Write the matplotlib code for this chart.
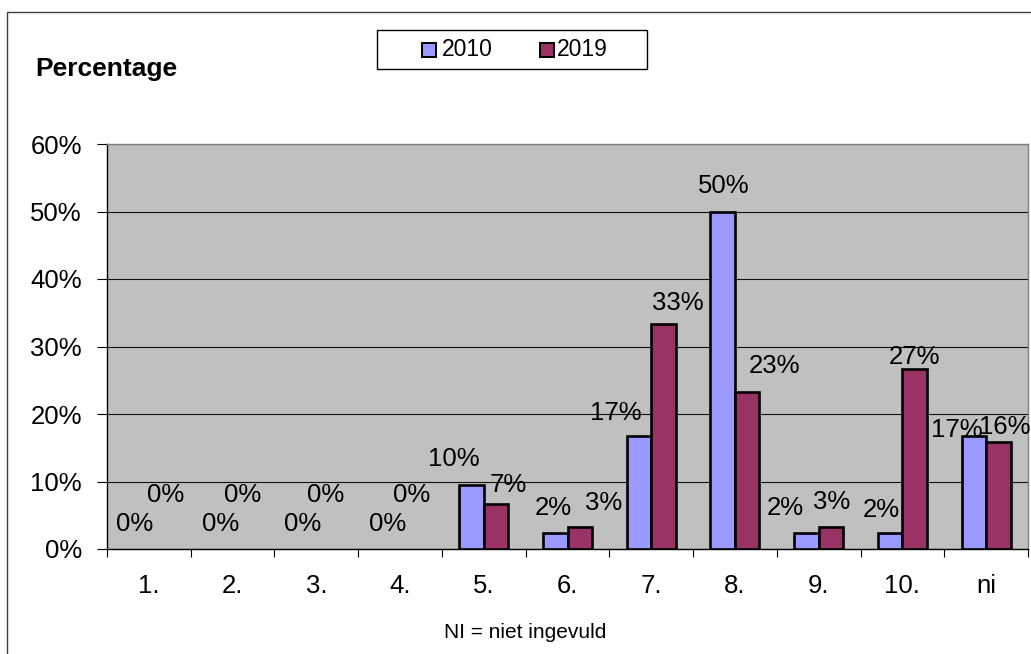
import matplotlib
matplotlib.use("Agg")
import matplotlib.pyplot as plt
from matplotlib.patches import Rectangle
from matplotlib.ticker import PercentFormatter, FixedLocator, NullFormatter
import numpy as np

plt.rcParams['font.family'] = ['Liberation Sans', 'DejaVu Sans']

categories = ["1.", "2.", "3.", "4.", "5.", "6.", "7.", "8.", "9.", "10.", "ni"]
series_names = ["2010", "2019"]
values_2010 = [0.0, 0.0, 0.0, 0.0, 0.095, 0.024, 0.167, 0.50, 0.024, 0.024, 0.167]
values_2019 = [0.0, 0.0, 0.0, 0.0, 0.067, 0.033, 0.333, 0.233, 0.033, 0.267, 0.158]
labels_2010 = ["0%", "0%", "0%", "0%", "10%", "2%", "17%", "50%", "2%", "2%", "17%"]
labels_2019 = ["0%", "0%", "0%", "0%", "7%", "3%", "33%", "23%", "3%", "27%", "16%"]

# label offsets (pixels) relative to bar top-centre, as placed in the original
off_2010 = [(-2, 25), (0, 25), (-1, 25), (0, 25), (-18, 26), (-2, 25), (-23, 23.5),
            (1, 25.5), (-21, 25), (-9, 23), (-17, 6.5)]
off_2019 = [(4, 54), (-2, 54), (-3, 54), (-1, 54), (12, 19), (24, 23.5), (14, 21),
            (27, 25.5), (1, 24.5), (0, 12), (6, 15)]

c2010 = "#9999FF"
c2019 = "#993366"

W, H = 1031, 654
fig = plt.figure(figsize=(W / 100, H / 100), dpi=100)
fig.patch.set_facecolor("white")

# chart border
fig.patches.append(Rectangle((7 / W, -0.1), 1.2, 1 - 12 / H + 0.1, transform=fig.transFigure,
                             fill=False, edgecolor="#404040", linewidth=1.0, zorder=0))

left, right, bottom, top = 107, 1028, 549, 144
ax = fig.add_axes([left / W, 1 - bottom / H, (right - left) / W, (bottom - top) / H])
ax.set_facecolor("#C0C0C0")

x = np.arange(len(categories))
bw = 0.293
lw1 = [1.9 if v > 0 else 0 for v in values_2010]
lw2 = [1.9 if v > 0 else 0 for v in values_2019]
b1 = ax.bar(x - bw / 2, values_2010, bw, color=c2010, edgecolor="black", linewidth=lw1, zorder=3)
b2 = ax.bar(x + bw / 2, values_2019, bw, color=c2019, edgecolor="black", linewidth=lw2, zorder=3)

ax.set_xlim(-0.5, len(categories) - 0.5)
ax.set_ylim(0, 0.6)
ax.set_yticks(np.arange(0, 0.61, 0.1))
ax.yaxis.set_major_formatter(PercentFormatter(1.0, decimals=0))
ax.yaxis.grid(True, color="#111111", linewidth=0.8, zorder=1)
ax.set_axisbelow(True)

ax.xaxis.set_major_locator(FixedLocator(np.arange(-0.5, len(categories), 1.0)))
ax.xaxis.set_major_formatter(NullFormatter())
ax.xaxis.set_minor_locator(FixedLocator(x))
ax.set_xticklabels(categories, minor=True)
ax.tick_params(axis="x", which="major", length=6, width=0.8, color="black", direction="out")
ax.tick_params(axis="x", which="minor", length=0, pad=18, labelsize=18.5)
ax.tick_params(axis="y", length=7, width=0.8, pad=11, labelsize=18.5)

for s in ["top", "right"]:
    ax.spines[s].set_color("#808080")
    ax.spines[s].set_linewidth(1.0)
for s in ["left", "bottom"]:
    ax.spines[s].set_color("black")
    ax.spines[s].set_linewidth(1.0)

px = 0.72  # points per pixel at 100 dpi
for bars, labs, offs in [(b1, labels_2010, off_2010), (b2, labels_2019, off_2019)]:
    for rect, lab, (dx, dy) in zip(bars, labs, offs):
        cx = rect.get_x() + rect.get_width() / 2
        ax.annotate(lab, xy=(cx, rect.get_height()), xytext=(dx * px, dy * px),
                    textcoords="offset points", ha="center", va="center",
                    fontsize=18.5, annotation_clip=False, zorder=5)

# title-like label
fig.text(35 / W, 1 - 69 / H, "Percentage", fontsize=19, fontweight="bold",
         ha="left", va="center")

# note
fig.text(525 / W, 1 - 633 / H, "NI = niet ingevuld", fontsize=15, ha="center", va="center")

# legend (manual box)
lx0, ly0, lx1, ly1 = 377, 30, 647, 69
fig.patches.append(Rectangle((lx0 / W, 1 - ly1 / H), (lx1 - lx0) / W, (ly1 - ly0) / H,
                             transform=fig.transFigure, facecolor="white",
                             edgecolor="black", linewidth=1.0, zorder=2))
entries = [(422, 442, c2010, series_names[0]), (540, 557, c2019, series_names[1])]
for sx, tx, col, name in entries:
    fig.patches.append(Rectangle((sx / W, 1 - 57 / H), 14 / W, 14 / H,
                                 transform=fig.transFigure, facecolor=col,
                                 edgecolor="black", linewidth=1.4, zorder=3))
    fig.text(tx / W, 1 - 49.5 / H, name, fontsize=16.5, ha="left", va="center", zorder=4)

fig.savefig("out.png", dpi=100)
